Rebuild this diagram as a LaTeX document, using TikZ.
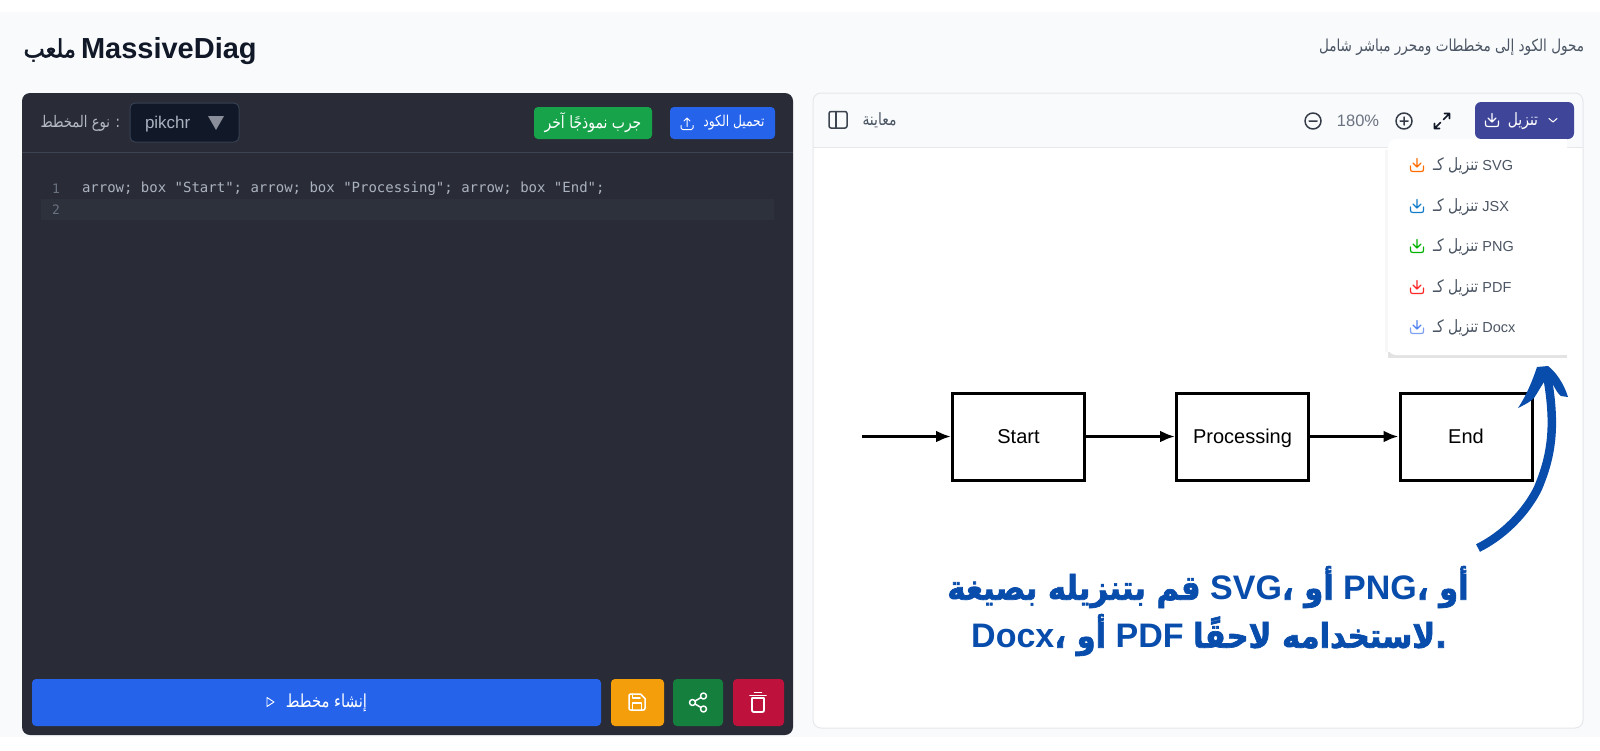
\documentclass[tikz,border=0pt]{standalone}
\usepackage{fontspec}
\usetikzlibrary{arrows.meta,shadows,calc}
\setmainfont{Liberation Sans}
\setmonofont{DejaVu Sans Mono}
\TeXXeTstate=1
\newfontfamily\ar[Script=Arabic,FakeStretch=0.82]{DejaVu Sans}
\newfontfamily\arb[Script=Arabic,FakeStretch=0.9,FakeBold=2]{DejaVu Sans}
\newcommand{\fs}[1]{\fontsize{#1}{#1}\selectfont}
\definecolor{pagebg}{HTML}{F8FAFC}
\definecolor{darkpanel}{HTML}{292C37}
\definecolor{headline}{HTML}{3E4352}
\definecolor{selbg}{HTML}{111827}
\definecolor{selborder}{HTML}{374151}
\definecolor{btnblue}{HTML}{2563EB}
\definecolor{btngreen}{HTML}{16A34A}
\definecolor{btnorange}{HTML}{F59E0B}
\definecolor{btndgreen}{HTML}{15803D}
\definecolor{btnred}{HTML}{BE123C}
\definecolor{indigo}{HTML}{3F4699}
\definecolor{ink}{HTML}{111827}
\definecolor{graytext}{HTML}{4B5563}
\definecolor{codetext}{HTML}{ABB2BF}
\definecolor{lineno}{HTML}{6B7280}
\definecolor{hiline}{HTML}{2C313C}
\definecolor{hint}{HTML}{084CAC}
\definecolor{rule}{HTML}{E5E7EB}
\tikzset{
  x=1pt,y=-1pt,
  txt/.style={inner sep=0pt,outer sep=0pt,anchor=center},
  btn/.style={rounded corners=4pt,draw=none},
  ico/.style={line width=1.5pt,line cap=round,line join=round},
  diagbox/.style={draw=black,line width=3pt,fill=white,minimum width=132pt,minimum height=87pt,inner sep=0pt,font=\fs{20},text=black,text height=18pt,text depth=4pt},
  diagarrow/.style={draw=black,line width=3pt,-{Latex[length=15pt,width=12pt]}},
  menu/.style={txt,anchor=west,font=\fs{14.5},text=graytext},
}
% download icon
\newcommand{\dlicon}[5][1.2pt]{%
  \begin{scope}[shift={(#2,#3)}]
    \draw[ico,line width=#1,draw=#4] (0,-6.5) -- (0,2) (-4,-2)--(0,2)--(4,-2);
    \draw[ico,line width=#1,draw=#5] (-6.5,1)--(-6.5,4) .. controls (-6.5,6) and (-6,6.5) .. (-4,6.5)--(4,6.5) .. controls (6,6.5) and (6.5,6) .. (6.5,4)--(6.5,1);
  \end{scope}}
\begin{document}
\begin{tikzpicture}
\useasboundingbox (0,0) rectangle (1600,750);
\fill[white] (0,0) rectangle (1600,750);
\fill[pagebg] (0,12) rectangle (1600,737);

% header
\node[txt,anchor=west,font=\fs{29}\bfseries,text=ink] (title) at (81,51) {MassiveDiag};
\node[txt,anchor=east,font=\arb\fs{25},text=ink] (titlear) at (76,50) {\beginR ملعب\endR};
\node[txt,anchor=east,font=\ar\fs{16.5},text=graytext] (subtitle) at (1584,47) {\beginR محول الكود إلى مخططات ومحرر مباشر شامل\endR};

% left panel
\fill[darkpanel,rounded corners=8pt] (22,93) rectangle (793,735);
\draw[headline,line width=1pt] (22,152.5) -- (793,152.5);
\node[txt,anchor=east,font=\ar\fs{16},text=codetext!90!white] (typelabel) at (120,123) {\beginR : نوع المخطط\endR};
\draw[fill=selbg,draw=selborder,line width=1pt,rounded corners=5pt] (130,103) rectangle (239,142);
\node[txt,anchor=west,font=\fs{17},text=codetext] (sel) at (145,124) {pikchr};
\fill[lineno!80!white] (208,116) -- (224,116) -- (216,130) -- cycle;
\fill[btn,fill=btngreen] (534,107) rectangle (652,139);
\node[txt,font=\ar\fs{17},text=white] (try) at (593,123) {\beginR جرب نموذجًا آخر\endR};
\fill[btn,fill=btnblue] (670,107) rectangle (775,139);
\node[txt,font=\ar\fs{15},text=white] (upload) at (734,123) {\beginR تحميل الكود\endR};
\begin{scope}[shift={(687,123.5)}]
  \draw[ico,line width=1pt,draw=white] (0,3)--(0,-5.5) (-3,-2.5)--(0,-5.5)--(3,-2.5) (-6,2)--(-6,4.5)--(-4.5,6)--(4.5,6)--(6,4.5)--(6,2);
\end{scope}

% code
\fill[hiline] (41,199) rectangle (774,220);
\node[txt,font=\ttfamily\fs{13},text=lineno] (n1) at (56,189) {1};
\node[txt,font=\ttfamily\fs{13},text=lineno] (n2) at (56,209.5) {2};
\node[txt,anchor=west,font=\ttfamily\fs{14},text=codetext] (code) at (82,189) {arrow; box "Start"; arrow; box "Processing"; arrow; box "End";};

% bottom buttons
\fill[btn,fill=btnblue] (32,679) rectangle (601,726);
\node[txt,font=\ar\fs{18},text=white] (gen) at (326.5,703) {\beginR إنشاء مخطط\endR};
\draw[white,line width=.9pt,line join=round] (267,697.5) -- (274,702) -- (267,706.5) -- cycle;
\fill[btn,fill=btnorange] (611,679) rectangle (664,726);
\begin{scope}[shift={(637,702)},ico,draw=white,line width=1.5pt]
  \draw (-6,-8) -- (3.5,-8) -- (8,-3.5) -- (8,6) .. controls (8,7.5) and (7.5,8) .. (6,8) -- (-6,8) .. controls (-7.5,8) and (-8,7.5) .. (-8,6) -- (-8,-6) .. controls (-8,-7.5) and (-7.5,-8) .. (-6,-8);
  \draw (-4.5,8) -- (-4.5,1) -- (4.5,1) -- (4.5,8);
  \draw (-4.5,-8) -- (-4.5,-4) -- (3,-4);
\end{scope}
\fill[btn,fill=btndgreen] (673,679) rectangle (723,726);
\begin{scope}[shift={(698,702.5)},ico,draw=white,line width=1.5pt]
  \draw (5.5,-6.5) circle (3) (-5.5,0) circle (3) (5.5,6.5) circle (3);
  \draw (-3,-1.5) -- (3,-5) (-3,1.5) -- (3,5);
\end{scope}
\fill[btn,fill=btnred] (733,679) rectangle (784,726);
\begin{scope}[shift={(758,702)},ico,draw=white,line width=1.8pt]
  \draw (-8,-6.5) -- (8,-6.5);
  \draw (-3.5,-9.5) -- (3.5,-9.5);
  \draw (-6,-4) -- (-6,8) .. controls (-6,9.5) and (-5.5,10) .. (-4,10) -- (4,10) .. controls (5.5,10) and (6,9.5) .. (6,8) -- (6,-4) -- cycle;
\end{scope}

% right panel
\begin{scope}
  \clip[rounded corners=8pt] (813,93) rectangle (1583,728);
  \fill[white] (813,93) rectangle (1583,728);
  \fill[pagebg] (813,93) rectangle (1583,147);
\end{scope}
\draw[rule,line width=1pt] (813,147) -- (1583,147);
\draw[fill=none,draw=rule,line width=1pt,rounded corners=8pt] (813,93) rectangle (1583,728);
\begin{scope}[ico,draw=graytext!80!black,line width=1.5pt]
  \draw[rounded corners=2pt] (829,111.5) rectangle (847,128);
  \draw (836,111.5) -- (836,128);
\end{scope}
\node[txt,font=\ar\fs{17},text=graytext] (preview) at (879.5,120) {\beginR معاينة\endR};
% zoom controls
\draw[ico,draw=ink!85!white] (1313,121) circle (8) (1309,121) -- (1317,121);
\node[txt,font=\fs{16.5},text=lineno] (pct) at (1358,120.5) {180\%};
\draw[ico,draw=ink!85!white] (1404,121) circle (8) (1400,121) -- (1408,121) (1404,117) -- (1404,125);
\begin{scope}[shift={(1442,121)},ico,draw=ink,line width=1.6pt]
  \draw (1.5,-1.5) -- (7.5,-7.5) (2.5,-7.5) -- (7.5,-7.5) -- (7.5,-2.5);
  \draw (-1.5,1.5) -- (-7.5,7.5) (-7.5,2.5) -- (-7.5,7.5) -- (-2.5,7.5);
\end{scope}
% download button
\fill[btn,fill=indigo,rounded corners=6pt] (1475,102) rectangle (1574,139);
\node[txt,font=\ar\fs{17},text=white] (dl) at (1523,121) {\beginR تنزيل\endR};
\dlicon{1492}{120}{white}{white}
\draw[white,line width=1pt,line cap=round,line join=round] (1549,118.5) -- (1553,122) -- (1557,118.5);

% diagram
\node[diagbox] (start) at (1018.5,436.5) {Start};
\node[diagbox] (proc) at (1242.5,436.5) {Processing};
\node[diagbox] (end) at (1466,436.5) {End};
\coordinate (entry) at (862,436.5);
\draw[diagarrow] (entry) -- (start.west);
\draw[diagarrow] (start.east) -- (proc.west);
\draw[diagarrow] (proc.east) -- (end.west);

% dropdown
\fill[black!3] (1385,150) rectangle (1388,352);
\fill[black!11] (1388,352) rectangle (1567,358);
\fill[white,rounded corners=8pt] (1388,139) rectangle (1567,355);
\fill[white] (1540,139) rectangle (1567,355);
\dlicon{1417}{165}{orange!85!red}{orange!85!red}
\node[menu] (m1) at (1433,166) {{\ar\fs{17}\beginR تنزيل كـ\endR} SVG};
\dlicon{1417}{206}{cyan!60!blue}{cyan!60!blue}
\node[menu] (m2) at (1433,207) {{\ar\fs{17}\beginR تنزيل كـ\endR} JSX};
\dlicon{1417}{246}{green!70!black}{green!70!black}
\node[menu] (m3) at (1433,247) {{\ar\fs{17}\beginR تنزيل كـ\endR} PNG};
\dlicon{1417}{287}{red!80!pink}{red!80!pink}
\node[menu] (m4) at (1433,288) {{\ar\fs{17}\beginR تنزيل كـ\endR} PDF};
\dlicon{1417}{327}{btnblue!80!white}{btnblue!60!white}
\node[menu] (m5) at (1433,328) {{\ar\fs{17}\beginR تنزيل كـ\endR} Docx};

% hand-drawn arrow
\coordinate (hintfrom) at (1478,548);
\coordinate (hintmid) at (1538,488);
\coordinate (hintto) at (1547,375);
\draw[hint,line width=8.5pt] (hintfrom) .. controls (1510,532) and (1530,505) .. (hintmid) .. controls (1552,455) and (1556,425) .. (hintto);
\fill[hint] (1537,367) .. controls (1532,382) and (1526,396) .. (1518,408) .. controls (1526,404) and (1530,402) .. (1534,398) .. controls (1538,392) and (1540,388) .. (1544,382) -- (1552,383) .. controls (1556,390) and (1558,394) .. (1561,396) -- (1568,397) .. controls (1564,384) and (1556,372) .. (1548,366) -- cycle;

% hint text
\node[txt,font=\fs{34}\bfseries,text=hint] (hint1) at (1208,587) {{\arb\beginR قم بتنزيله بصيغة\endR} SVG{\arb\beginR أو ،\endR} PNG{\arb\beginR أو ،\endR}};
\node[txt,font=\fs{34}\bfseries,text=hint] (hint2) at (1209,635) {Docx{\arb\beginR أو ،\endR} PDF {\arb\beginR .لاستخدامه لاحقًا\endR}};
\end{tikzpicture}
\end{document}
